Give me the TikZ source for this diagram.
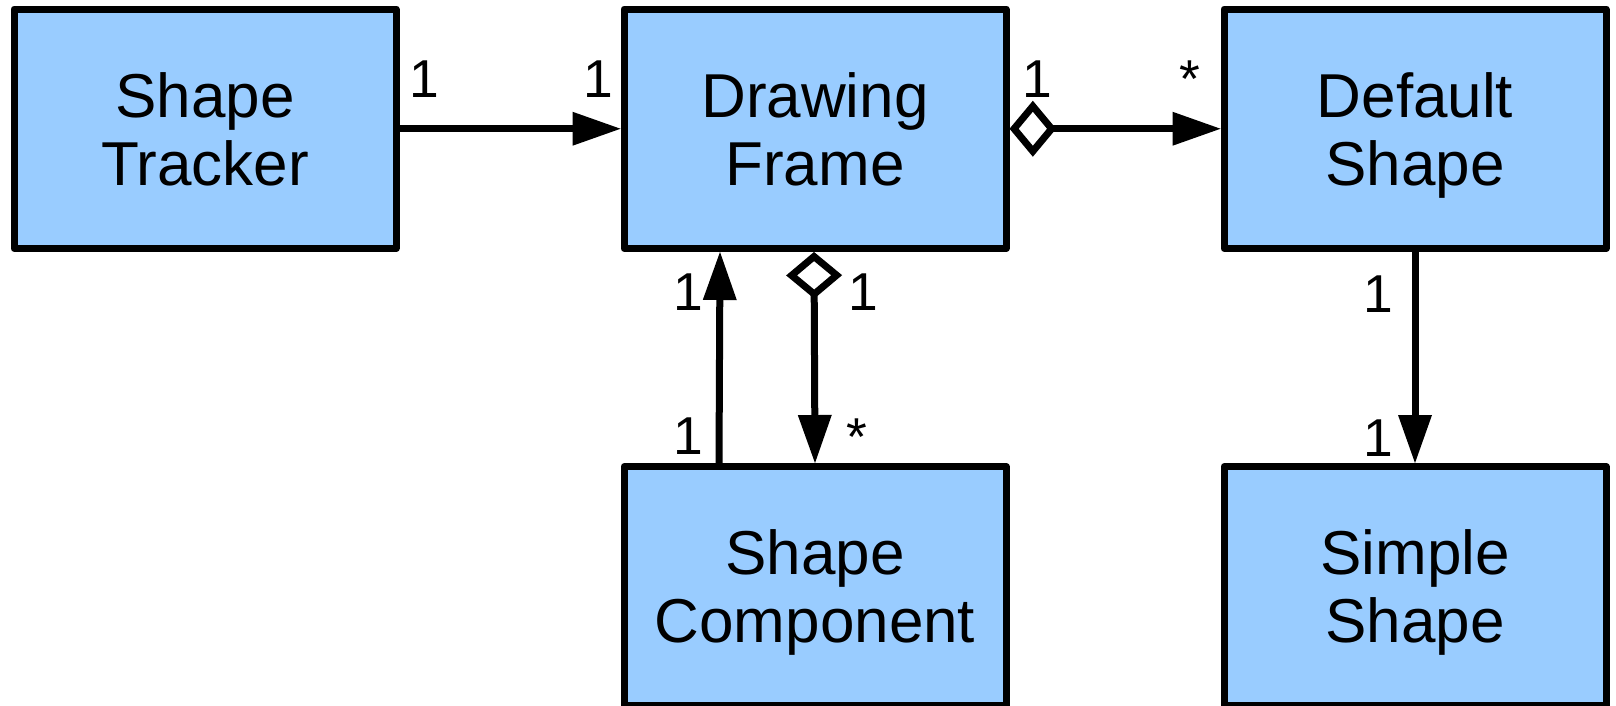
\documentclass[tikz,border=0pt]{standalone}
\usepackage{fontspec}
\setmainfont{Liberation Sans}
\usetikzlibrary{arrows.meta,calc}
\definecolor{boxblue}{HTML}{99CCFF}
% keep descenders of the last line from shifting the text block
\newcommand{\lastline}[1]{\raisebox{0pt}[\height][0pt]{#1}}
\begin{document}
\begin{tikzpicture}[x=0.75pt,y=-0.75pt,
  classbox/.style={draw=black, fill=boxblue, line width=5.25pt, line join=round,
    minimum width=286.5pt, minimum height=179.6pt, inner sep=0pt, align=center,
    font=\fontsize{46.5}{51}\selectfont},
  mult/.style={anchor=base, inner sep=0pt, font=\fontsize{40}{48}\selectfont},
  headtip/.tip={Triangle[length=36pt,width=25.5pt,line width=0pt]},
  aggtip/.tip={Diamond[open,length=35pt,width=42pt,line width=5.25pt]},
  assoc/.style={line width=5.25pt, -headtip},
  aggr/.style={line width=5.25pt, aggtip-headtip}
]
\useasboundingbox (0,0) rectangle (1616,706);

% classes
\node[classbox] (ST) at (205,128.75)  {Shape\\\lastline{Tracker}};
\node[classbox] (DF) at (815,128.75)  {Drawing\\\lastline{Frame}};
\node[classbox] (DS) at (1415,128.75) {Default\\\lastline{Shape}};
\node[classbox] (SC) at (815,586.25)  {Shape\\\lastline{Component}};
\node[classbox] (SS) at (1415,586.25) {Simple\\\lastline{Shape}};

% associations
\draw[assoc] (ST.east) -- (DF.west);
\draw[aggr]  (DF.east) -- (DS.west);
\draw[assoc] ($(SC.north)+(-96,0)$) -- ($(DF.south)+(-95,0)$);
\draw[aggr]  ($(DF.south)+(-1,0)$) -- (SC.north);
\draw[assoc] (DS.south) -- (SS.north);

% multiplicities
\node[mult] (m1) at (424,98)  {1};
\node[mult] (m2) at (598,98)  {1};
\node[mult] (m3) at (1037,98) {1};
\node[mult] (m4) at (1190,98) {*};
\node[mult] (m5) at (688,310) {1};
\node[mult] (m6) at (863,310) {1};
\node[mult] (m7) at (688,454) {1};
\node[mult] (m8) at (857,455) {*};
\node[mult] (m9) at (1378,312) {1};
\node[mult] (m10) at (1378,456) {1};
\end{tikzpicture}
\end{document}
